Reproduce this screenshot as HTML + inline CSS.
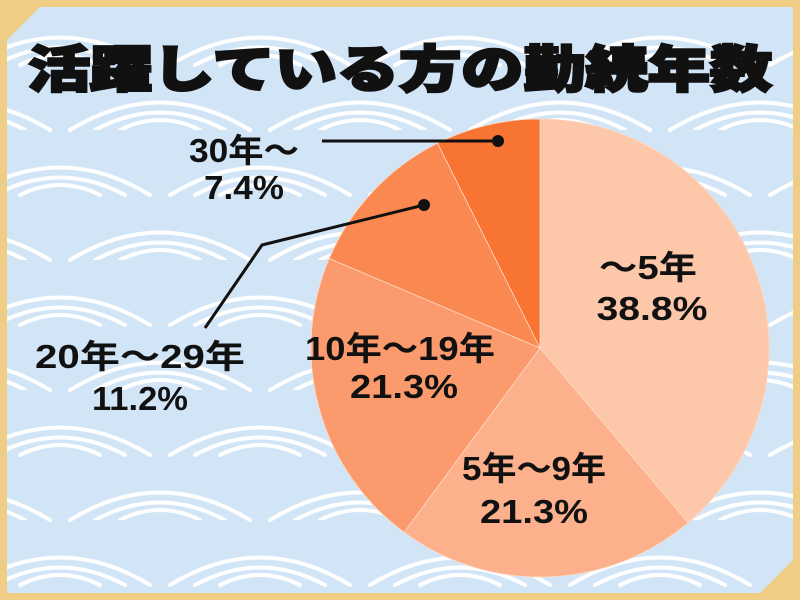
<!DOCTYPE html>
<html><head><meta charset="utf-8"><style>
html,body{margin:0;padding:0}
body{width:800px;height:600px;background:#efcd85;position:relative;overflow:hidden;font-family:"Liberation Sans","Noto Sans CJK JP",sans-serif}
svg{position:absolute;left:0;top:0}
</style></head><body>
<svg width="800" height="600" viewBox="0 0 800 600">
<defs>
<pattern id="w" width="200" height="130" patternUnits="userSpaceOnUse" x="-40" y="0">
<rect width="200" height="130" fill="#d2e5f7"/>
<g fill="none" stroke="#fff" stroke-width="4" stroke-linecap="round">
<path d="M10 65 Q100 10 190 65"/><path d="M35 65 Q100 30 165 65"/><path d="M60 65 Q100 45 140 65"/>
<path d="M-90 130 Q0 75 90 130"/><path d="M-65 130 Q0 95 65 130"/><path d="M-40 130 Q0 110 40 130"/>
<path d="M110 130 Q200 75 290 130"/><path d="M135 130 Q200 95 265 130"/><path d="M160 130 Q200 110 240 130"/>
<path d="M-90 0 Q0 -55 90 0"/><path d="M110 0 Q200 -55 290 0"/>
</g>
</pattern>
</defs>
<polygon points="40,7 793,7 793,560 760,593 7,593 7,40" fill="url(#w)"/>
<g stroke="#ffd9c4" stroke-width="0.8">
<path d="M540 348 L540 119 A229 229 0 0 1 688.1 522.7 Z" fill="#fdc7aa"/>
<path d="M540 348 L688.1 522.7 A229 229 0 0 1 404.1 532.3 Z" fill="#fcb08c"/>
<path d="M540 348 L404.1 532.3 A229 229 0 0 1 329.2 258.5 Z" fill="#fb9b6d"/>
<path d="M540 348 L329.2 258.5 A229 229 0 0 1 437.5 143.2 Z" fill="#fa8851"/>
<path d="M540 348 L437.5 143.2 A229 229 0 0 1 540 119 Z" fill="#f77433"/>
</g>
<g stroke="#111" stroke-width="3" fill="none">
<line x1="322" y1="141" x2="498" y2="141"/>
<polyline points="424,205 262,245 205,328"/>
</g>
<circle cx="498" cy="141" r="6" fill="#111"/>
<circle cx="424" cy="205" r="6" fill="#111"/>
<text x="400" y="87" text-anchor="middle" font-size="50" font-weight="900" fill="#111" stroke="#111" stroke-width="2.5" textLength="744" lengthAdjust="spacingAndGlyphs">活躍している方の勤続年数</text>
<g font-size="33" font-weight="bold" fill="#111" text-anchor="middle">
<text x="648" y="279" textLength="98" lengthAdjust="spacingAndGlyphs">～5年</text><text x="652" y="320" textLength="111" lengthAdjust="spacingAndGlyphs">38.8%</text>
<text x="534" y="480" textLength="144" lengthAdjust="spacingAndGlyphs">5年～9年</text><text x="534" y="523" textLength="108" lengthAdjust="spacingAndGlyphs">21.3%</text>
<text x="400" y="360" textLength="190" lengthAdjust="spacingAndGlyphs">10年～19年</text><text x="404" y="398" textLength="108" lengthAdjust="spacingAndGlyphs">21.3%</text>
<text x="140" y="368" textLength="210" lengthAdjust="spacingAndGlyphs">20年～29年</text><text x="140" y="410" textLength="96" lengthAdjust="spacingAndGlyphs">11.2%</text>
<text x="244" y="162" textLength="110" lengthAdjust="spacingAndGlyphs">30年～</text><text x="244" y="199" textLength="80" lengthAdjust="spacingAndGlyphs">7.4%</text>
</g>
</svg>
</body></html>
